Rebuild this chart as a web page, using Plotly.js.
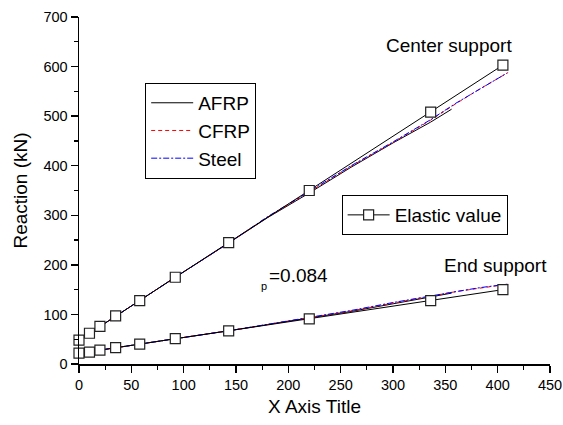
<!DOCTYPE html>
<html>
<head>
<meta charset="utf-8">
<script src="https://cdn.plot.ly/plotly-3.0.1.min.js"></script>
<style>
  html, body { margin: 0; padding: 0; background: #fff; }
  #chart { width: 563px; height: 425px; }
</style>
</head>
<body>
<div id="chart"></div>
<script>
// Applied load positions for the closed-form (elastic) solution
var elasticX = [0, 10, 20, 35, 58, 92, 143, 220, 336, 405];
var elasticCenter = [48, 62, 76, 97, 128, 175, 245, 350, 508, 603];
var elasticEnd = [22, 24, 28, 33, 40, 51, 67, 91, 128, 150];

// Numerical results: AFRP run stops earlier than CFRP / Steel
var afrpX = [0, 10, 20, 35, 58, 92, 143, 180, 220, 260, 300, 336, 356];
var afrpCenter = [48, 62, 76, 97, 128, 175, 244, 295, 345, 397, 446, 488, 514];
var afrpEnd = [22, 24, 28, 33, 40, 51, 67, 80, 93, 106, 122, 136, 143];

var cfrpX = [0, 10, 20, 35, 58, 92, 143, 180, 220, 260, 300, 336, 360, 383, 410];
var cfrpCenter = [48, 62, 76, 97, 128, 175, 244, 296, 347, 399, 447, 492, 525, 555, 588];
var cfrpEnd = [22, 24, 28, 33, 40, 51, 67, 80, 94, 107, 123, 137, 146, 153, 161];

var steelX = [0, 10, 20, 35, 58, 92, 143, 180, 220, 260, 300, 336, 360, 383, 409];
var steelCenter = [48, 62, 76, 97, 128, 175, 244, 297, 348, 400, 448, 493, 526, 555, 587];
var steelEnd = [22, 24, 28, 33, 40, 51, 67, 80, 94, 108, 124, 138, 146, 154, 161];

var FONT = 'Arial, "Liberation Sans", sans-serif';

function series(name, x, y, line, group, show, legend) {
  return {
    type: 'scatter', mode: 'lines', name: name, x: x, y: y,
    line: line, legendgroup: group, showlegend: show, legend: legend,
    cliponaxis: false, hoverinfo: 'skip'
  };
}

var afrpLine = { color: '#000000', width: 1 };
var cfrpLine = { color: '#ff0000', width: 1, dash: '4px,3px' };
var steelLine = { color: '#0000ff', width: 1, dash: '6px,2px,2px,2px' };

var elasticStyle = {
  type: 'scatter', mode: 'lines+markers', cliponaxis: false, hoverinfo: 'skip',
  line: { color: '#000000', width: 1 },
  marker: { symbol: 'square', size: 10, color: '#ffffff', line: { color: '#222222', width: 1.2 } },
  legendgroup: 'el', legend: 'legend2'
};

var data = [
  series('AFRP', afrpX, afrpCenter, afrpLine, 'a', true, 'legend'),
  series('AFRP', afrpX, afrpEnd, afrpLine, 'a', false, 'legend'),
  series('CFRP', cfrpX, cfrpCenter, cfrpLine, 'c', true, 'legend'),
  series('CFRP', cfrpX, cfrpEnd, cfrpLine, 'c', false, 'legend'),
  series('Steel', steelX, steelCenter, steelLine, 's', true, 'legend'),
  series('Steel', steelX, steelEnd, steelLine, 's', false, 'legend'),
  Object.assign({}, elasticStyle, { name: 'Elastic value', x: elasticX, y: elasticCenter, showlegend: true }),
  Object.assign({}, elasticStyle, { name: 'Elastic value', x: elasticX, y: elasticEnd, showlegend: false })
];

var axisCommon = {
  showgrid: false, zeroline: false, showline: true, mirror: false,
  linecolor: '#000000', linewidth: 1.5,
  ticks: 'outside', ticklen: 7, tickwidth: 1.5, tickcolor: '#000000',
  tickfont: { family: FONT, size: 14.5, color: '#000000' },
  fixedrange: true
};

var layout = {
  width: 563, height: 425,
  margin: { l: 79, r: 13, t: 17, b: 61 },
  paper_bgcolor: '#ffffff', plot_bgcolor: '#ffffff',
  font: { family: FONT, color: '#000000' },
  showlegend: true,
  xaxis: Object.assign({}, axisCommon, {
    range: [0, 450], dtick: 50, tick0: 0,
    minor: { dtick: 25, ticks: 'outside', ticklen: 4, tickwidth: 1.2, tickcolor: '#000000' },
    title: { text: 'X Axis Title', font: { family: FONT, size: 19, color: '#000000' }, standoff: 8 }
  }),
  yaxis: Object.assign({}, axisCommon, {
    range: [0, 700], dtick: 100, tick0: 0,
    minor: { dtick: 50, ticks: 'outside', ticklen: 4, tickwidth: 1.2, tickcolor: '#000000' },
    title: { text: 'Reaction (kN)', font: { family: FONT, size: 19, color: '#000000' }, standoff: 10 }
  }),
  legend: {
    x: 0.1405, y: 0.81, xanchor: 'left', yanchor: 'top',
    bgcolor: '#ffffff', bordercolor: '#000000', borderwidth: 1,
    font: { family: FONT, size: 19, color: '#000000' },
    itemwidth: 42, tracegroupgap: 0
  },
  legend2: {
    x: 0.5576, y: 0.487, xanchor: 'left', yanchor: 'top',
    bgcolor: '#ffffff', bordercolor: '#000000', borderwidth: 1,
    font: { family: FONT, size: 19, color: '#000000' },
    itemwidth: 42
  },
  annotations: [
    { x: 353.5, y: 643, xref: 'x', yref: 'y', text: 'Center support', showarrow: false,
      font: { family: FONT, size: 19, color: '#000000' } },
    { x: 397.5, y: 198, xref: 'x', yref: 'y', text: 'End support', showarrow: false,
      font: { family: FONT, size: 19, color: '#000000' } },
    { x: 179.8, y: 179, xref: 'x', yref: 'y', text: '=0.084', showarrow: false, xanchor: 'left',
      font: { family: FONT, size: 19, color: '#000000' } },
    { x: 181.5, y: 158, xref: 'x', yref: 'y', text: 'p', showarrow: false, xanchor: 'right',
      font: { family: FONT, size: 11, color: '#000000' } }
  ]
};

Plotly.newPlot('chart', data, layout, { staticPlot: true, displayModeBar: false });
</script>
</body>
</html>
